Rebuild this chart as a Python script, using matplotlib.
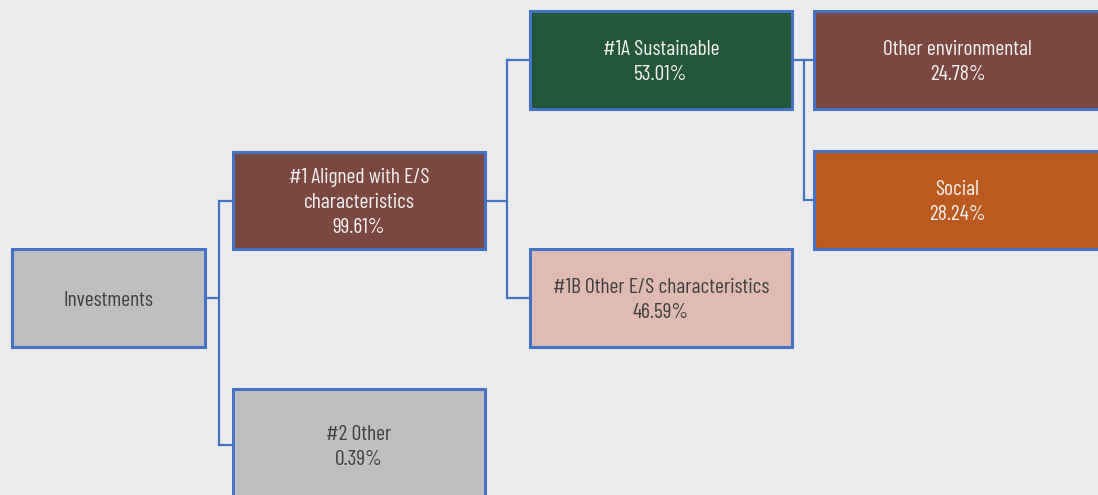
import matplotlib.pyplot as plt
from matplotlib.patches import Rectangle
from matplotlib import font_manager

# node data
labels = ['Investments', '#1 Aligned with E/S\ncharacteristics', '#2 Other',
          '#1A Sustainable', '#1B Other E/S characteristics',
          'Other environmental', 'Social']
shares = [None, 99.61, 0.39, 53.01, 46.59, 24.78, 28.24]

# box layout in pixels: left, top, right, bottom
boxes = [(12, 249, 205, 347),
         (233, 152, 485, 249),
         (233, 389, 485, 500),
         (530, 11, 792, 109),
         (530, 249, 792, 347),
         (814, 11, 1105, 109),
         (814, 151, 1105, 249)]
fills = ['#BFBFBF', '#7B4841', '#BFBFBF', '#245639', '#E0BBB3', '#7B4841', '#BA5A1F']
txtcol = ['#404040', '#F2F2F2', '#404040', '#F2F2F2', '#404040', '#F2F2F2', '#F2F2F2']
# parent -> children, with x of the vertical trunk
links = [(0, [1, 2], 219), (1, [3, 4], 507), (3, [5, 6], 804)]

names = set(f.name for f in font_manager.fontManager.ttflist)
fam = 'DejaVu Sans'
for cand in ['Barlow Condensed', 'Barlow Semi Condensed', 'Asap Condensed']:
    if cand in names:
        fam = cand
        break

blue = '#4472C4'
fig = plt.figure(figsize=(10.98, 4.95), dpi=100)
fig.patch.set_facecolor('#EBEBEB')
ax = fig.add_axes([0, 0, 1, 1])
ax.set_xlim(0, 1098)
ax.set_ylim(495, 0)
ax.axis('off')

def mid_y(b):
    # bottom box runs off the page, so use its visible part
    return (b[1] + b[3]) / 2.0 if b[3] < 495 else b[1] + 56

# connectors first
for p, kids, tx in links:
    pb = boxes[p]
    py = mid_y(pb)
    ys = [mid_y(boxes[k]) for k in kids]
    ax.plot([pb[2], tx], [py, py], color=blue, lw=1.6, solid_capstyle='butt')
    ax.plot([tx, tx], [min(ys), max(ys)], color=blue, lw=1.6, solid_capstyle='projecting')
    for k, y in zip(kids, ys):
        ax.plot([tx, boxes[k][0]], [y, y], color=blue, lw=1.6, solid_capstyle='butt')

for i, b in enumerate(boxes):
    l, t, r, bt = b
    ax.add_patch(Rectangle((l, t), r - l, bt - t, facecolor=fills[i],
                           edgecolor=blue, lw=2.2, zorder=3))
    s = labels[i] if shares[i] is None else '{}\n{:.2f}%'.format(labels[i], shares[i])
    cx = (l + r) / 2.0 if r < 1098 else (l + r) / 2.0 - 2
    ax.text(cx, mid_y(b) + 2, s, ha='center', va='center', color=txtcol[i],
            fontsize=15.5, family=fam, linespacing=1.42, zorder=4)

fig.savefig('out.png', dpi=100, facecolor=fig.get_facecolor())
